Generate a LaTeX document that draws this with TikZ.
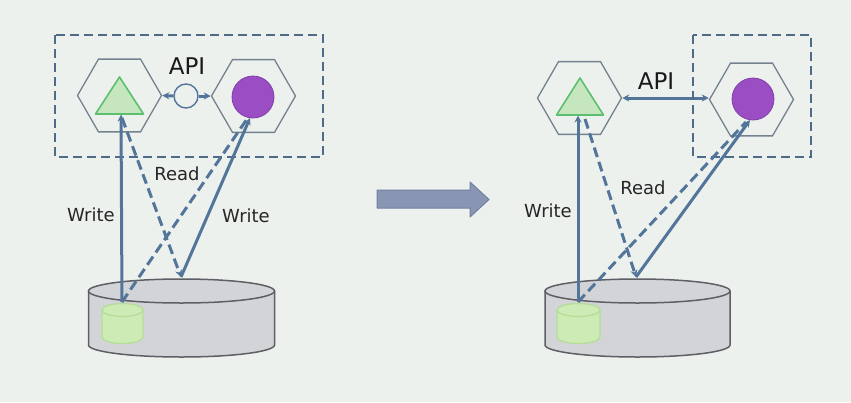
\documentclass[tikz,border=0pt]{standalone}
\usepackage{fontspec}
\setmainfont{DejaVu Sans}
\usetikzlibrary{shapes.geometric,arrows.meta}
\definecolor{bgc}{HTML}{EDF1EE}
\definecolor{linec}{HTML}{53759A}
\definecolor{rectc}{HTML}{4F6B88}
\definecolor{hexc}{HTML}{74828F}
\definecolor{trifill}{HTML}{C6E6C0}
\definecolor{tridraw}{HTML}{5CBF6E}
\definecolor{purfill}{HTML}{9B4DC4}
\definecolor{purdraw}{HTML}{8040A8}
\definecolor{cylfill}{HTML}{D3D4D8}
\definecolor{cyldraw}{HTML}{5E5F64}
\definecolor{scylfill}{HTML}{CDEBB4}
\definecolor{scyldraw}{HTML}{B4DE98}
\definecolor{bigfill}{HTML}{8896B4}
\definecolor{bigdraw}{HTML}{7080A2}
\tikzset{
  hexnode/.style={regular polygon, regular polygon sides=6, minimum size=84pt, inner sep=0pt, draw=hexc, line width=1.3pt},
  purnode/.style={circle, minimum size=42pt, inner sep=0pt, fill=purfill, draw=purdraw, line width=0.8pt},
  apinode/.style={circle, minimum size=24pt, inner sep=0pt, draw=linec, line width=1.4pt},
  conn/.style={draw=linec, line width=3pt},
  dconn/.style={draw=linec, line width=3pt, dash pattern=on 10pt off 5pt},
  tipped/.style={-{Stealth[length=7pt,width=7pt]}},
  dtipped/.style={<->, >={Stealth[length=7pt,width=7pt]}},
  boxrect/.style={draw=rectc, line width=2.8pt, dash pattern=on 9pt off 5pt},
  lbl/.style={font=\fontsize{18}{21}\selectfont, text=black!85, inner sep=0pt},
  apilbl/.style={font=\fontsize{23}{26}\selectfont, text=black!90, inner sep=0pt},
  tri/.style={fill=trifill, draw=tridraw, line width=1.6pt, line join=round},
  cylline/.style={draw=cyldraw, line width=1.5pt},
  scylline/.style={draw=scyldraw, line width=1.3pt},
}
\begin{document}
\begin{tikzpicture}[x=1pt,y=-1pt]
\fill[bgc] (0,0) rectangle (851,402);
\useasboundingbox (0,0) rectangle (851,402);

% ================= LEFT PANEL =================
\fill[cylfill] (88.5,291) -- (88.5,345) arc[start angle=180,end angle=360,x radius=93pt,y radius=12pt] -- (274.5,291) -- cycle;
\draw[cylline] (88.5,291) -- (88.5,345) arc[start angle=180,end angle=360,x radius=93pt,y radius=12pt] -- (274.5,291);
\draw[cylline, fill=cylfill] (181.5,291) ellipse [x radius=93pt, y radius=12pt];
\fill[scylfill] (102,310) -- (102,337) arc[start angle=180,end angle=360,x radius=20.5pt,y radius=6.5pt] -- (143,310) -- cycle;
\draw[scylline] (102,310) -- (102,337) arc[start angle=180,end angle=360,x radius=20.5pt,y radius=6.5pt] -- (143,310);
\draw[scylline, fill=scylfill] (122.5,310) ellipse [x radius=20.5pt, y radius=6.5pt];

\coordinate (dbLw) at (122,302);
\coordinate (dbLr) at (181,277);

\node[hexnode] (hexL1) at (119.5,95.5) {};
\node[hexnode] (hexL2) at (253.5,96) {};
\draw[tri] (119.5,77) -- (143.5,114) -- (95.5,114) -- cycle;
\coordinate (triL) at (121,114.5);
\coordinate (triLr) at (122,118);
\node[purnode] (purL) at (253,97) {};
\coordinate (purLs) at (250,118);
\coordinate (purLd) at (247,119);

\node[apinode] (apiL) at (186,96) {};
\draw[conn, tipped] (apiL.west) -- (hexL1.east);
\draw[conn, tipped] (apiL.east) -- (hexL2.west);
\node[apilbl] (apiLt) at (187,66) {API};

\draw[boxrect] (55,35) rectangle (323,157);

\draw[conn, tipped] (dbLw) -- (triL);
\draw[conn, tipped] (dbLr) -- (purLs);
\draw[dconn, tipped] (triLr) -- (dbLr);
\draw[dconn] (dbLw) -- (purLd);

\node[lbl] (readL) at (177,174) {Read};
\node[lbl] (writeL1) at (91,215) {Write};
\node[lbl] (writeL2) at (246,216) {Write};

% ================= BIG ARROW =================
\draw[fill=bigfill, draw=bigdraw, line width=1pt, line join=round] (377,190) -- (470,190) -- (470,182) -- (489,199.5) -- (470,217) -- (470,208) -- (377,208) -- cycle;

% ================= RIGHT PANEL =================
\fill[cylfill] (545,291) -- (545,345) arc[start angle=180,end angle=360,x radius=92.5pt,y radius=12pt] -- (730,291) -- cycle;
\draw[cylline] (545,291) -- (545,345) arc[start angle=180,end angle=360,x radius=92.5pt,y radius=12pt] -- (730,291);
\draw[cylline, fill=cylfill] (637.5,291) ellipse [x radius=92.5pt, y radius=12pt];
\fill[scylfill] (557,310) -- (557,337) arc[start angle=180,end angle=360,x radius=21.5pt,y radius=6.5pt] -- (600,310) -- cycle;
\draw[scylline] (557,310) -- (557,337) arc[start angle=180,end angle=360,x radius=21.5pt,y radius=6.5pt] -- (600,310);
\draw[scylline, fill=scylfill] (578.5,310) ellipse [x radius=21.5pt, y radius=6.5pt];

\coordinate (dbRw) at (578,302);
\coordinate (dbRr) at (636,277);

\node[hexnode] (hexR1) at (579.5,98) {};
\node[hexnode] (hexR2) at (751.5,99.5) {};
\draw[tri] (580,78) -- (603.5,115) -- (556.5,115) -- cycle;
\coordinate (triR) at (578,115.5);
\coordinate (triRr) at (585,119);
\node[purnode] (purR) at (753,99) {};
\coordinate (purRs) at (750,120);
\coordinate (purRd) at (746,122);

\draw[conn, dtipped] (hexR1.east) -- (hexR1.east -| hexR2.west);
\node[apilbl] (apiRt) at (656,81) {API};

\draw[boxrect] (693,35) rectangle (811,157);

\draw[conn, tipped] (dbRw) -- (triR);
\draw[conn, tipped] (dbRr) -- (purRs);
\draw[dconn, tipped] (triRr) -- (dbRr);
\draw[dconn] (dbRw) -- (purRd);

\node[lbl] (readR) at (643,188) {Read};
\node[lbl] (writeR) at (548,211) {Write};
\end{tikzpicture}
\end{document}
